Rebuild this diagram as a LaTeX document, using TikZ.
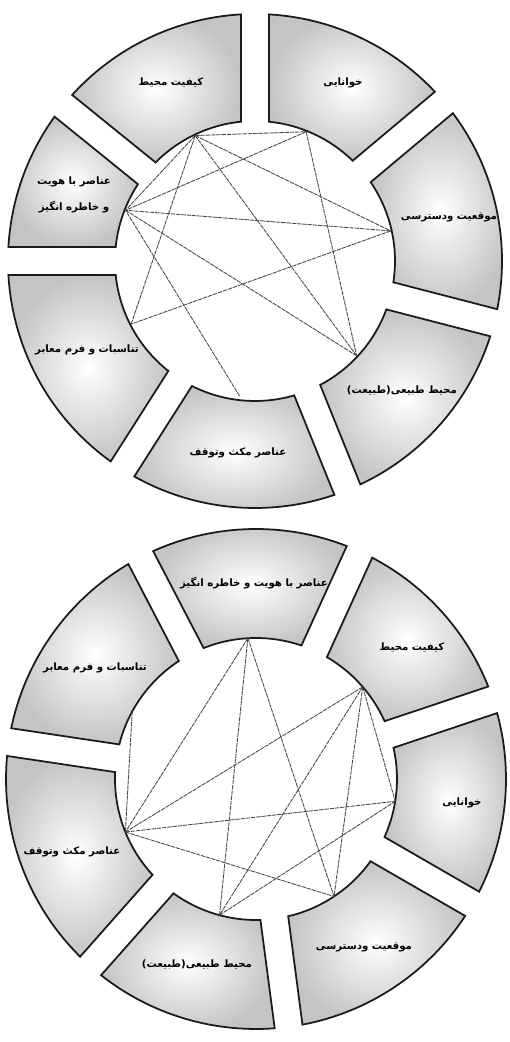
\documentclass[tikz,border=0pt]{standalone}
\usepackage{fontspec}
\usepackage{tikz}
\usetikzlibrary{calc}
\TeXXeTstate=1
\newfontfamily\farsi[Script=Arabic]{DejaVu Sans}
\definecolor{ringEdge}{HTML}{1A1A1A}
\definecolor{ringShade}{HTML}{C4C4C4}
\definecolor{linkGray}{HTML}{4A4A4A}
% one ring piece: centre, start gap, end gap, outer radius, inner radius
\newcommand{\ringseg}[5]{%
  \pgfmathsetmacro\segoa{asin(14/#4)}\pgfmathsetmacro\segia{asin(14/#5)}%
  \path[seg] ($(#1)+({#2+\segoa}:#4)$) arc[start angle={#2+\segoa}, end angle={#3-\segoa}, radius=#4]
    -- ($(#1)+({#3-\segia}:#5)$) arc[start angle={#3-\segia}, end angle={#2+\segia}, radius=#5] -- cycle;}

\begin{document}
\begin{tikzpicture}[x=0.02cm, y=0.02cm]
\tikzset{seg/.style={draw=ringEdge, line width=1pt, shade, shading=radial, inner color=white, outer color=ringShade},
 link/.style={draw=linkGray, line width=0.5pt, dash pattern=on 2.5pt off 0.5pt},
 lbl/.style={font=\farsi\bfseries\fontsize{5.8}{8}\selectfont, inner sep=0pt, align=center}}
\fill[white] (0,0) rectangle (510,1042);
\useasboundingbox (0,0) rectangle (510,1042);

% upper ring
\coordinate (c-up) at (255,781);
\ringseg{c-up}{40}{90}{247}{140}
\ringseg{c-up}{90}{141}{247}{140}
\ringseg{c-up}{141}{180}{247}{140}
\ringseg{c-up}{180}{237.5}{247}{140}
\ringseg{c-up}{237.5}{292}{247}{140}
\ringseg{c-up}{292}{345.5}{247}{140}
\ringseg{c-up}{-14.5}{40}{247}{140}

\coordinate (u1) at ($(c-up)+(115.5:139)$);
\coordinate (u2) at ($(c-up)+(68.4:139)$);
\coordinate (u3) at ($(c-up)+(12.5:139)$);
\coordinate (u4) at ($(c-up)+(-43:139)$);
\coordinate (u5) at ($(c-up)+(263.5:136)$);
\coordinate (u6) at ($(c-up)+(207:139)$);
\coordinate (u7) at ($(c-up)+(158.6:139)$);

\draw[link] (u1) -- (u2); \draw[link] (u1) -- (u3); \draw[link] (u1) -- (u4);
\draw[link] (u1) -- (u6); \draw[link] (u1) -- (u7);
\draw[link] (u2) -- (u7); \draw[link] (u2) -- (u4);
\draw[link] (u3) -- (u7); \draw[link] (u3) -- (u6);
\draw[link] (u4) -- (u7); \draw[link] (u5) -- (u7);

\node[lbl] (u-kif) at (171,960) {\beginR کیفیت محیط\endR};
\node[lbl] (u-khan) at (343,959) {\beginR خوانایی\endR};
\node[lbl] (u-mowq) at (449,824) {\beginR موقعیت ودسترسی\endR};
\node[lbl] (u-tabi) at (402,651) {\beginR محیط طبیعی(طبیعت)\endR};
\node[lbl] (u-maks) at (238,589) {\beginR عناصر مکث وتوقف\endR};
\node[lbl] (u-tana) at (87,692) {\beginR تناسبات و فرم معابر\endR};
\node[lbl] (u-hovi) at (74,847) {\beginR عناصر با هویت\endR\\[7pt]\beginR و خاطره انگیز\endR};

% lower ring
\coordinate (c-dn) at (256,263);
\ringseg{c-dn}{18.5}{65.5}{250}{141}
\ringseg{c-dn}{65.5}{117.5}{250}{141}
\ringseg{c-dn}{117.5}{171.5}{250}{141}
\ringseg{c-dn}{171.5}{228.5}{250}{141}
\ringseg{c-dn}{228.5}{277.5}{250}{141}
\ringseg{c-dn}{277.5}{330}{250}{141}
\ringseg{c-dn}{-30}{18.5}{250}{141}

\coordinate (d1) at ($(c-dn)+(93.3:141)$);
\coordinate (d2) at ($(c-dn)+(40.8:141)$);
\coordinate (d3) at ($(c-dn)+(-9.1:141)$);
\coordinate (d4) at ($(c-dn)+(-56.4:141)$);
\coordinate (d5) at ($(c-dn)+(255:141)$);
\coordinate (d6) at ($(c-dn)+(202.1:141)$);
\coordinate (d7) at ($(c-dn)+(151.4:141)$);

\draw[link] (d1) -- (d6); \draw[link] (d1) -- (d5); \draw[link] (d1) -- (d4);
\draw[link] (d7) -- (d6);
\draw[link] (d2) -- (d6); \draw[link] (d2) -- (d5); \draw[link] (d2) -- (d4); \draw[link] (d2) -- (d3);
\draw[link] (d6) -- (d3); \draw[link] (d6) -- (d4); \draw[link] (d5) -- (d3);

\node[lbl] (d-hovi) at (254,459) {\beginR عناصر با هویت و خاطره انگیز\endR};
\node[lbl] (d-kif) at (412,395) {\beginR کیفیت محیط\endR};
\node[lbl] (d-khan) at (462,239) {\beginR خوانایی\endR};
\node[lbl] (d-mowq) at (364,94) {\beginR موقعیت ودسترسی\endR};
\node[lbl] (d-tabi) at (197,77) {\beginR محیط طبیعی(طبیعت)\endR};
\node[lbl] (d-maks) at (72,190) {\beginR عناصر مکث وتوقف\endR};
\node[lbl] (d-tana) at (95,374) {\beginR تناسبات و فرم معابر\endR};
\end{tikzpicture}
\end{document}
